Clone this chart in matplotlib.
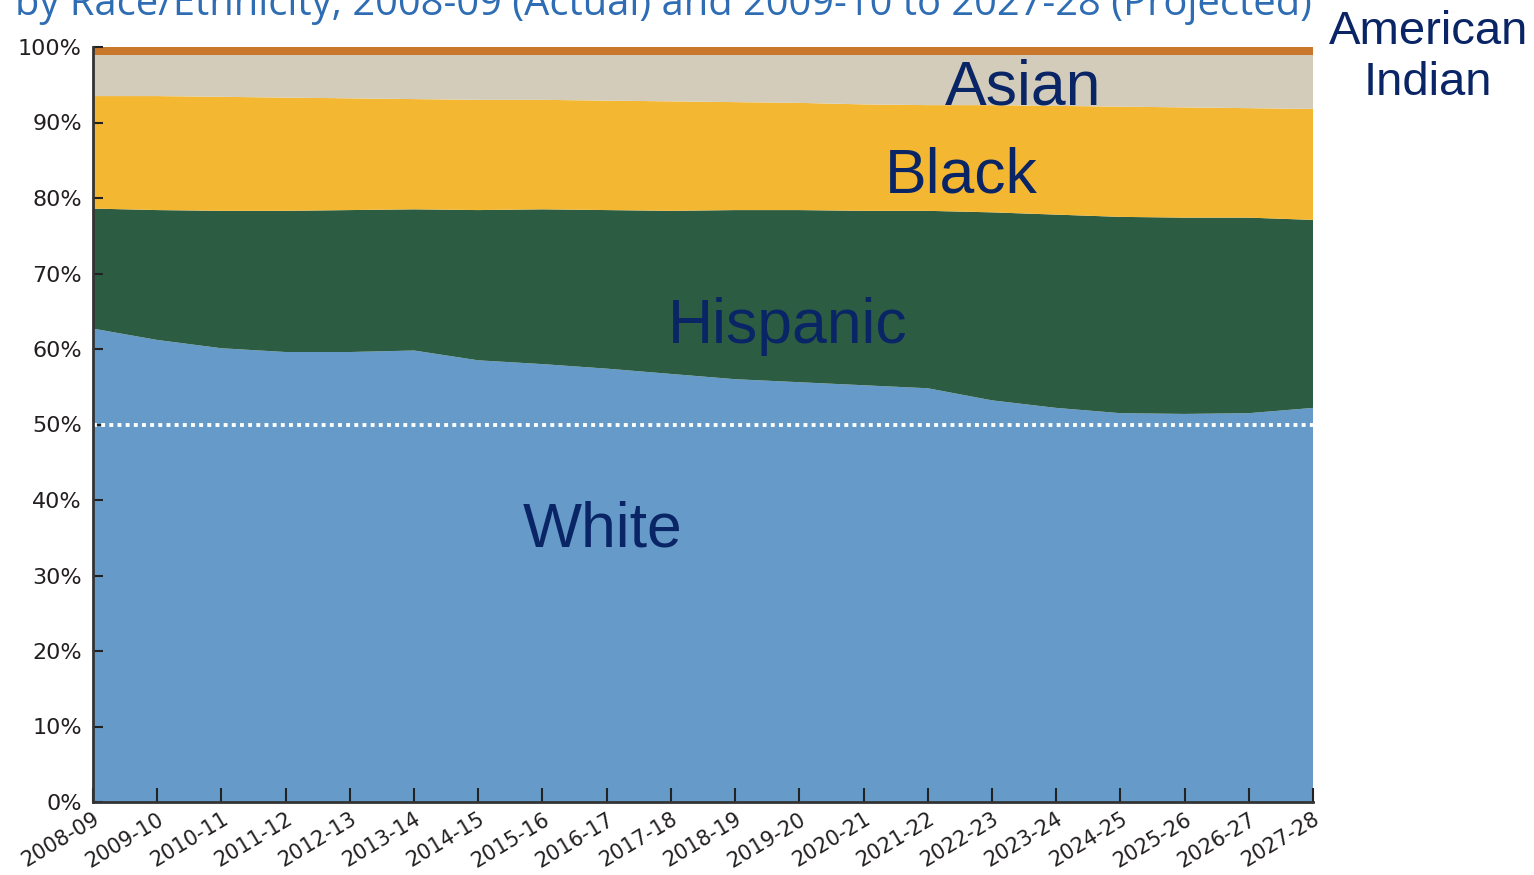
import numpy as np
import matplotlib
matplotlib.use("Agg")
import matplotlib.pyplot as plt

# -----------------------
# Data (percent of students)
# -----------------------
years = ["2008-09", "2009-10", "2010-11", "2011-12", "2012-13", "2013-14",
         "2014-15", "2015-16", "2016-17", "2017-18", "2018-19", "2019-20",
         "2020-21", "2021-22", "2022-23", "2023-24", "2024-25", "2025-26",
         "2026-27", "2027-28"]
white = [62.7, 61.2, 60.1, 59.6, 59.6, 59.8, 58.5, 58.0, 57.4, 56.7,
         56.0, 55.6, 55.2, 54.8, 53.2, 52.2, 51.5, 51.4, 51.5, 52.2]
hispanic = [15.9, 17.2, 18.2, 18.7, 18.8, 18.7, 19.9, 20.5, 21.0, 21.6,
            22.4, 22.8, 23.1, 23.5, 24.9, 25.6, 26.0, 26.0, 25.9, 24.9]
black = [14.9, 15.1, 15.1, 15.0, 14.8, 14.6, 14.6, 14.5, 14.5, 14.5,
         14.3, 14.2, 14.1, 14.0, 14.2, 14.4, 14.6, 14.6, 14.5, 14.7]
asian = [5.5, 5.5, 5.6, 5.7, 5.8, 5.9, 6.0, 6.0, 6.1, 6.2,
         6.3, 6.4, 6.6, 6.7, 6.7, 6.8, 6.9, 7.0, 7.1, 7.2]
amind = [1.0, 1.0, 1.0, 1.0, 1.0, 1.0, 1.0, 1.0, 1.0, 1.0,
         1.0, 1.0, 1.0, 1.0, 1.0, 1.0, 1.0, 1.0, 1.0, 1.0]

colors = ["#669BC9", "#2C5D43", "#F4B732", "#D3CCBA", "#C8772B"]
label_color = "#0A2565"
tick_font = ["DejaVu Sans Condensed", "DejaVu Sans"]

# -----------------------
# Figure
# -----------------------
fig = plt.figure(figsize=(15.34, 8.75), dpi=100)
ax = fig.add_axes([93 / 1534, 73 / 875, 1220 / 1534, 755 / 875])

x = np.arange(len(years))
ax.stackplot(x, white, hispanic, black, asian, amind, colors=colors, lw=0)

# dotted 50% line
ax.axhline(50, color="white", lw=2.8, ls=(0, (1, 1.1)))

ax.set_xlim(0, len(years) - 1)
ax.set_ylim(0, 100)
ax.set_xticks(x)
ax.set_xticklabels(years, rotation=31, ha="right", rotation_mode="anchor",
                   family=tick_font, fontsize=15, color="#231F20")
ax.set_yticks(np.arange(0, 101, 10))
ax.set_yticklabels([f"{v}%" for v in range(0, 101, 10)],
                   family=tick_font, fontsize=16, color="#231F20")
ax.tick_params(axis="x", direction="in", length=10, width=1.5, color="#222222", pad=5)
ax.tick_params(axis="y", direction="in", length=7, width=1.5, color="#222222", pad=8)

for side in ["top", "right"]:
    ax.spines[side].set_visible(False)
for side in ["left", "bottom"]:
    ax.spines[side].set_color("#333333")
    ax.spines[side].set_linewidth(2)

# group labels
lab = dict(family="Liberation Sans", color=label_color, ha="center", va="center")
ax.text(7.94, 36.0, "White", fontsize=45, **lab)
ax.text(10.82, 63.0, "Hispanic", fontsize=45, **lab)
ax.text(13.52, 82.9, "Black", fontsize=45, **lab)
ax.text(14.48, 94.6, "Asian", fontsize=45, **lab)
fig.text(0.931, 0.934, "American\nIndian", fontsize=34, linespacing=1.2, **lab)

# cut-off title at top
fig.text(15 / 1534, 1 - 15 / 875,
         "by Race/Ethnicity, 2008-09 (Actual) and 2009-10 to 2027-28 (Projected)",
         family="Open Sans", fontsize=28.7, color="#2E6DB4", ha="left", va="baseline")

fig.savefig("out.png", dpi=100)
